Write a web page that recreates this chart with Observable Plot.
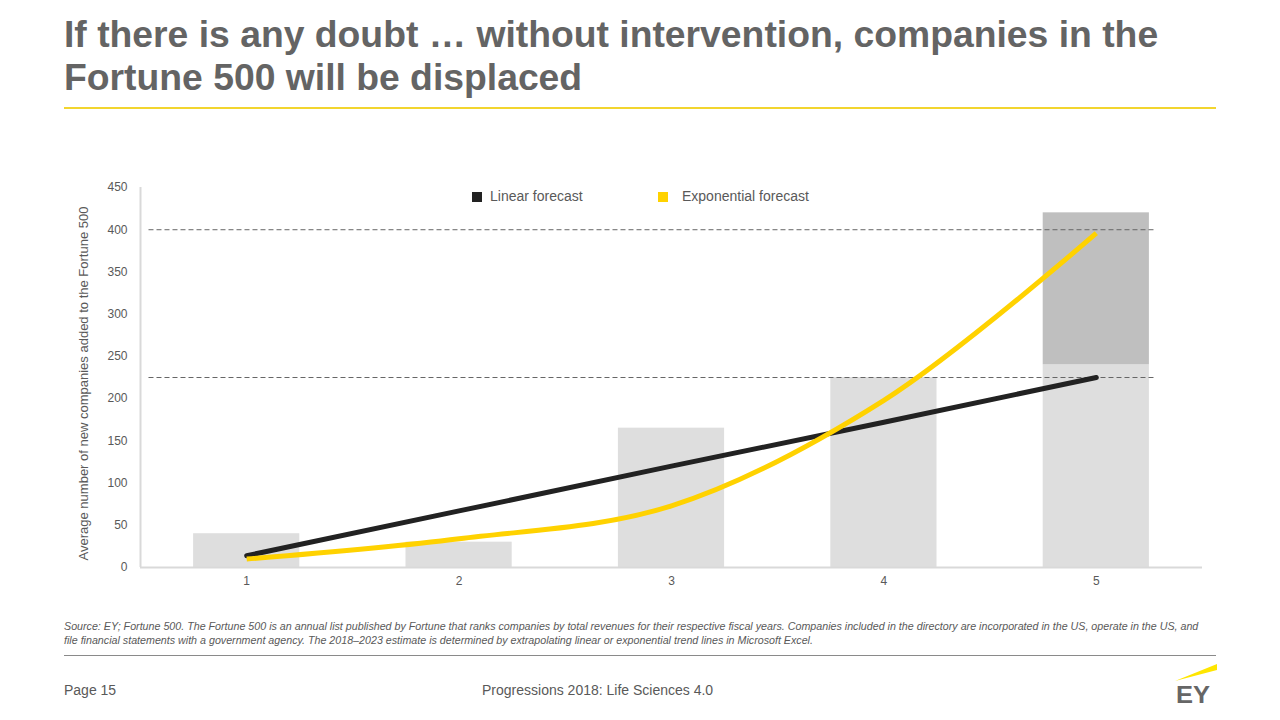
<!DOCTYPE html>
<html><head><meta charset="utf-8">
<script src="https://cdn.jsdelivr.net/npm/d3@7"></script>
<script src="https://cdn.jsdelivr.net/npm/@observablehq/plot@0.6"></script>
<style>
html,body{margin:0;padding:0;background:#fff;width:1280px;height:720px;overflow:hidden;font-family:"Liberation Sans",Arial,sans-serif;}
.tl{position:absolute;left:64px;width:1190px;height:37px;font-weight:bold;font-size:37.3px;line-height:37px;color:#646464;white-space:nowrap;}
#rule{position:absolute;left:64px;top:107px;width:1152px;height:2px;background:#f2d52f;}
#chart{position:absolute;left:0;top:175px;}
#legend{position:absolute;top:188px;left:0;font-size:14px;color:#595959;}
.li{position:absolute;white-space:nowrap;}
.sw{display:inline-block;width:10px;height:10px;vertical-align:-1px;}
#source{position:absolute;left:64px;top:619px;width:1200px;font-style:italic;font-size:10.7px;line-height:14px;color:#595959;white-space:nowrap;}
#rule2{position:absolute;left:64px;top:655px;width:1152px;height:1px;background:#8a8a8a;}
#page{position:absolute;left:64px;top:682px;font-size:14px;color:#595959;}
#prog{position:absolute;left:482px;top:682px;font-size:14px;color:#595959;}
#logo{position:absolute;left:1170px;top:660px;}
</style></head><body>
<div class="tl" style="top:16.3px">If there is any doubt … without intervention, companies in the</div>
<div class="tl" style="top:58.5px">Fortune 500 will be displaced</div>
<div id="rule"></div>
<div id="chart"></div>
<div id="legend">
  <div class="li" style="left:472px"><span class="sw" style="background:#222;margin-right:8px"></span>Linear forecast</div>
  <div class="li" style="left:658px"><span class="sw" style="background:#ffd200;margin-right:14px"></span>Exponential forecast</div>
</div>
<div id="source">Source: EY; Fortune 500. The Fortune 500 is an annual list published by Fortune that ranks companies by total revenues for their respective fiscal years. Companies included in the directory are incorporated in the US, operate in the US, and<br>file financial statements with a government agency. The 2018–2023 estimate is determined by extrapolating linear or exponential trend lines in Microsoft Excel.</div>
<div id="rule2"></div>
<div id="page">Page 15</div>
<div id="prog">Progressions 2018: Life Sciences 4.0</div>
<svg id="logo" width="56" height="56">
  <polygon points="5,21 47,4 47,10" fill="#ffe600"/>
  <text x="6" y="43" font-family="Liberation Sans, Arial" font-weight="bold" font-size="24" fill="#666" textLength="34" lengthAdjust="spacingAndGlyphs">EY</text>
</svg>
<script>
const periods = [1, 2, 3, 4, 5];
const barBase = [40, 30, 165, 225, 240];
const barExtra = [0, 0, 0, 0, 180];
const linearForecast = [14, 67, 120, 172, 225];
const exponentialForecast = [10, 34, 73, 198, 396];
const referenceLevels = [400, 225];
const yTicks = [0, 50, 100, 150, 200, 250, 300, 350, 400, 450];

const bars = periods.map((p, i) => ({p, base: barBase[i], extra: barExtra[i]}));
const lin = periods.map((p, i) => ({p, v: linearForecast[i]}));
const expo = periods.map((p, i) => ({p, v: exponentialForecast[i]}));

const chart = Plot.plot({
  width: 1280, height: 425,
  marginLeft: 140, marginRight: 78, marginTop: 12, marginBottom: 33,
  style: {fontFamily: "Liberation Sans, Arial, sans-serif", fontSize: "12px", color: "#595959"},
  x: {domain: [0.5, 5.5]},
  y: {domain: [0, 450]},
  marks: [
    Plot.rectY(bars, {x1: d => d.p - 0.25, x2: d => d.p + 0.25, y1: 0, y2: "base", fill: "#dedede"}),
    Plot.rectY(bars.filter(d => d.extra > 0), {x1: d => d.p - 0.25, x2: d => d.p + 0.25, y1: "base", y2: d => d.base + d.extra, fill: "#bfbfbf"}),
    Plot.ruleY(referenceLevels, {x1: 0.54, x2: 5.28, stroke: "#666", strokeWidth: 1, strokeDasharray: "5,3"}),
    Plot.ruleY([0], {stroke: "#d9d9d9", strokeWidth: 2}),
    Plot.ruleX([0.5], {stroke: "#d9d9d9", strokeWidth: 2}),
    Plot.line(lin, {x: "p", y: "v", stroke: "#222", strokeWidth: 5, strokeLinecap: "round"}),
    Plot.line(expo, {x: "p", y: "v", stroke: "#ffd200", strokeWidth: 5, curve: "catmull-rom", strokeLinecap: "butt"}),
    Plot.axisX(periods, {tickSize: 0, tickPadding: 9, fill: "#595959", fontSize: 12, tickFormat: d => String(d), label: null}),
    Plot.axisY(yTicks, {tickSize: 0, tickPadding: 13, fill: "#595959", fontSize: 12, label: null}),
    Plot.text(["Average number of new companies added to the Fortune 500"], {
      frameAnchor: "left", dx: -57, dy: 6, rotate: -90, fontSize: 13, fill: "#595959", textAnchor: "middle"})
  ]
});
document.getElementById("chart").appendChild(chart);
</script>
</body></html>
